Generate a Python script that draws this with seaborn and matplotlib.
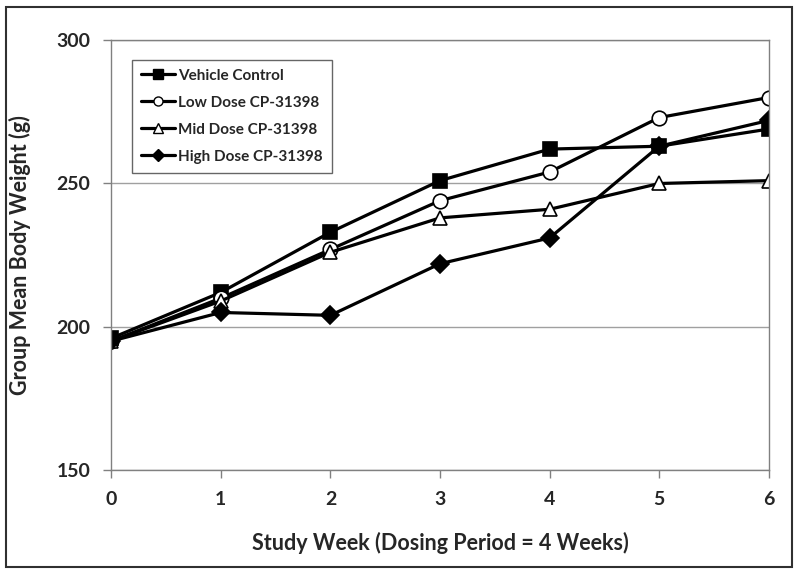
import seaborn as sns
import matplotlib.pyplot as plt
import pandas as pd
from matplotlib.patches import Rectangle

weeks = [0, 1, 2, 3, 4, 5, 6]
vehicle_control = [196, 212, 233, 251, 262, 263, 269]
low_dose = [195, 210, 227, 244, 254, 273, 280]
mid_dose = [195, 209, 226, 238, 241, 250, 251]
high_dose = [195, 205, 204, 222, 231, 263, 272]
groups = ["Vehicle Control", "Low Dose CP-31398", "Mid Dose CP-31398", "High Dose CP-31398"]
y_ticks = [150, 200, 250, 300]

sns.set_style("white")
plt.rcParams["font.family"] = ["Lato", "DejaVu Sans"]
plt.rcParams["font.weight"] = "bold"

frames = []
for name, vals in zip(groups, [vehicle_control, low_dose, mid_dose, high_dose]):
    frames.append(pd.DataFrame({"week": weeks, "weight": vals, "group": name}))
df = pd.concat(frames, ignore_index=True)

fig = plt.figure(figsize=(8, 5.74), dpi=100)
ax = fig.add_axes([0.139, 0.181, 0.822, 0.749])

markers = {groups[0]: "s", groups[1]: "o", groups[2]: "^", groups[3]: "D"}
palette = {g: "black" for g in groups}
sns.lineplot(data=df, x="week", y="weight", hue="group", style="group",
             markers=markers, dashes=False, palette=palette, linewidth=2.3,
             markersize=10, ax=ax, legend=False)

# open markers for low / mid dose, filled for the others
sizes = {groups[0]: 9.5, groups[1]: 10.5, groups[2]: 10.5, groups[3]: 9.5}
for line, g in zip(ax.lines, groups):
    line.set_markeredgecolor("black")
    line.set_markeredgewidth(1.2)
    line.set_markersize(sizes[g])
    if g in (groups[1], groups[2]):
        line.set_markerfacecolor("white")

ax.set_xlim(0, 6)
ax.set_ylim(150, 300)
ax.set_xticks(weeks)
ax.set_yticks(y_ticks)
ax.yaxis.grid(True, color="#a0a0a0", linewidth=1)
ax.set_axisbelow(True)
for s in ax.spines.values():
    s.set_color("#808080")
    s.set_linewidth(1)
ax.tick_params(axis="both", which="major", direction="out", length=6, width=1,
               color="#808080", labelsize=14, pad=9, bottom=True, left=True)
for lbl in ax.get_xticklabels() + ax.get_yticklabels():
    lbl.set_fontweight("bold")

ax.set_xlabel("Study Week (Dosing Period = 4 Weeks)", fontsize=15.5, fontweight="bold", labelpad=17)
ax.set_ylabel("Group Mean Body Weight (g)", fontsize=15.5, fontweight="bold", labelpad=18)

handles = []
for line, g in zip(ax.lines, groups):
    h, = ax.plot([], [], color="black", linewidth=2.3, marker=line.get_marker(),
                 markersize=6.5, markerfacecolor=line.get_markerfacecolor(),
                 markeredgecolor="black", markeredgewidth=1)
    handles.append(h)
leg = ax.legend(handles, groups, loc="upper left", bbox_to_anchor=(0.032, 0.955),
                borderaxespad=0, frameon=True, fancybox=False, edgecolor="#404040",
                prop={"weight": "bold", "size": 11}, handlelength=2.2, handletextpad=0.2,
                labelspacing=0.85, borderpad=0.6)
leg.get_frame().set_linewidth(1)

fig.patches.append(Rectangle((0.008, 0.012), 0.982, 0.976, transform=fig.transFigure,
                             fill=False, edgecolor="#303030", linewidth=1.5))

fig.savefig("out.png", dpi=100)
